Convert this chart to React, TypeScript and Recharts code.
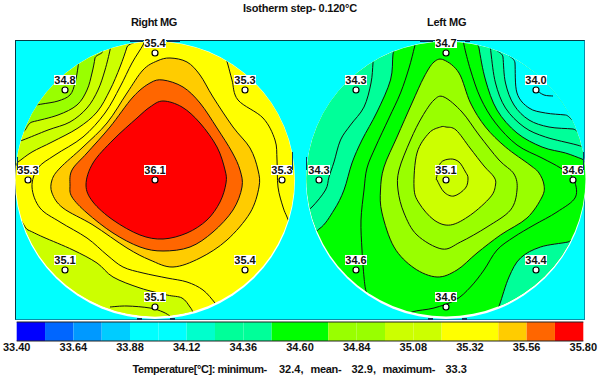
import React from 'react';
import { Bar, BarChart, Scatter, ScatterChart, XAxis, YAxis } from 'recharts';

type Pair = [number, number];

// colour scale, one entry per isotherm step of 0.12
const scaleColors = [
  '#0000ff', '#0066ff', '#0099ff', '#00ccff', '#00ffff', '#00ffff', '#00ffcc', '#00ff99', '#00ff99', '#00ff00',
  '#00ff00', '#99ff00', '#99ff00', '#ccff00', '#ccff00', '#ffff00', '#ffff00', '#ffcc00', '#ff6600', '#ff0000',
];
const scaleMin = 33.4;
const scaleStep = 0.12;
const scaleTicks = [33.4, 33.64, 33.88, 34.12, 34.36, 34.6, 34.84, 35.08, 35.32, 35.56, 35.8];

// probe positions on the breast, offset from the nipple
const probeSpots: Pair[] = [[0, -127], [-90, -90], [90, -90], [-127, 0], [0, 0], [127, 0], [-90, 90], [90, 90], [0, 127]];
const rightProbes = [35.4, 34.8, 35.3, 35.3, 36.1, 35.3, 35.1, 35.4, 35.1];
const leftProbes = [34.7, 34.3, 34.0, 34.3, 35.1, 34.6, 34.6, 34.4, 34.6];

// Right MG isotherms
const rRed: Pair[] = [[8, -79], [27, -73], [45, -57], [62, -33], [70, -10], [71, 3], [65, 22], [52, 40], [32, 53], [8, 59], [-15, 55], [-42, 40], [-62, 22], [-69, 5], [-62, -17], [-42, -40], [-18, -62], [-5, -73]];
const rOrange: Pair[] = [[8, -100], [28, -93], [45, -77], [62, -52], [77, -28], [85, -10], [87, 7], [78, 30], [58, 52], [35, 67], [8, 71], [-15, 67], [-42, 53], [-68, 33], [-83, 17], [-85, 5], [-83, -10], [-68, -27], [-45, -53], [-22, -83], [-5, -97]];
const rAmber: Pair[] = [[15, -122], [32, -118], [45, -105], [58, -83], [78, -53], [95, -32], [103, -10], [104, 7], [95, 33], [72, 60], [45, 78], [18, 87], [-5, 80], [-28, 68], [-62, 45], [-92, 28], [-103, 13], [-103, 0], [-95, -12], [-72, -33], [-48, -57], [-28, -87], [-12, -110], [2, -119]];
const rLime: Pair[] = [[-59, -132], [-60, -122], [-63, -107], [-68, -90], [-78, -75], [-97, -65], [-123, -58], [-135, -55], [-150, -150]];
const rYellowGreen: Pair[] = [[-26, -142], [-28, -133], [-35, -113], [-45, -90], [-58, -68], [-77, -52], [-103, -38], [-123, -28], [-137, -18], [-146, -12], [-150, -150]];
const rLowYellowGreen: Pair[] = [[-140, 45], [-127, 50], [-112, 57], [-82, 70], [-58, 83], [-42, 97], [-15, 108], [12, 115], [27, 118], [35, 127], [38, 132], [45, 145], [-150, 150]];
const rLineA: Pair[] = [[-76, -125], [-77, -113], [-80, -97], [-85, -85], [-97, -79], [-113, -76], [-125, -74]];
const rLineC: Pair[] = [[-44, -138], [-45, -130], [-50, -110], [-57, -90], [-68, -72], [-85, -58], [-107, -50], [-132, -40], [-142, -37]];
const rLineE: Pair[] = [[-10, -142], [-12, -135], [-23, -117], [-35, -93], [-50, -67], [-72, -43], [-100, -25], [-117, -12], [-123, 7], [-115, 28], [-95, 42], [-68, 58], [-48, 75], [-32, 87], [-12, 93], [12, 98], [32, 102], [48, 110], [60, 123], [66, 132]];
const rLineG: Pair[] = [[70, -125], [73, -115], [77, -100], [83, -80], [108, -62], [120, -40], [122, -20], [123, 7], [128, 27], [132, 37], [136, 47]];
const rLineH: Pair[] = [[-45, 127], [-28, 126], [-5, 128], [8, 132], [15, 136]];

// Left MG isotherms
const lOuterLeft: Pair[] = [[-50, -145], [-53, -126], [-55.5, -100], [-69, -68], [-84, -40], [-94, -17], [-102, 10], [-112, 30], [-127, 49], [-150, 55], [-150, -150]];
const lOuterRight: Pair[] = [[32, -145], [33, -132], [39.5, -100], [51, -70], [71, -47], [96, -33], [119.5, -27], [136, -21], [150, -16], [150, -150]];
const lOuterLow: Pair[] = [[135, 58], [122, 62], [94.5, 67], [74.5, 78], [63, 97], [53.5, 125], [48, 140], [150, 150]];
const lPale: Pair[] = [[56, -135], [57, -123], [59.5, -97], [68, -75], [83, -60], [103, -53], [127, -51], [142, -49], [150, -150]];
const lCold: Pair[] = [[68, -130], [69, -117], [71, -87], [83, -72], [99.5, -67], [119.5, -65], [135, -63], [150, -150]];
const lLime: Pair[] = [[-2, -120], [13, -107], [24.5, -77], [39.5, -53], [59.5, -33], [84, -15], [93, -7], [98, 5], [96, 17], [81, 38], [54.5, 55], [31, 73], [11, 90], [-9, 97], [-32, 88], [-52, 67], [-64, 33], [-65.5, 10], [-62, -13], [-49, -43], [-34, -77], [-22, -103], [-12, -118]];
const lYellowGreen: Pair[] = [[0, -53], [10, -50], [24, -32], [38, -14], [48, -3], [49.5, 5], [44.5, 17], [24.5, 35], [4.5, 45], [-12, 40], [-27, 23], [-32, 7], [-29, -27], [-17, -47], [-5.5, -53]];
const lLineA: Pair[] = [[-72, -130], [-73, -117], [-75, -97], [-82, -73], [-95.5, -55], [-105.5, -40], [-112, -18], [-117, -3], [-120.5, 10], [-134, 27], [-145, 35]];
const lLineC: Pair[] = [[-29, -145], [-31.5, -133], [-37, -112], [-45.5, -87], [-57, -62], [-70.5, -33], [-79, -12], [-82, 10], [-85, 40], [-84, 70], [-82, 97], [-80, 111], [-75, 125]];
const lLineR1: Pair[] = [[17, -145], [18, -135], [24.5, -110], [34.5, -82], [49.5, -57], [71, -35], [96, -22], [114.5, -12], [127, -2], [129.5, 17], [111, 32], [88, 45], [68, 57], [51, 70], [38, 90], [24.5, 107], [9.5, 120], [-12, 128], [-34, 132], [-45, 140]];
const lLineR3: Pair[] = [[44, -140], [45, -127], [49.5, -97], [59.5, -72], [78, -53], [99.5, -43], [131, -35], [146, -30]];
const lLineE: Pair[] = [[-2, -83], [16, -68], [33, -45], [53, -20], [68, -6], [71, 10], [64.5, 30], [41, 47], [14.5, 62], [-4, 69], [-29, 55], [-42, 33], [-48, 10], [-47, -10], [-35.5, -40], [-24, -63], [-12, -80]];
const lLineG: Pair[] = [[4.5, -21], [13, -18], [19.5, -8], [22, -2], [19.5, 8], [8, 16], [-2, 12], [-9, 0], [-9.5, -2], [-5.5, -17]];
const lLine34: Pair[] = [[90, -90], [98, -85], [107, -84]];

const toPoints = (pairs: Pair[]) => pairs.map(([x, y]) => ({ x, y }));

// Catmull-Rom through the scaled points
const smoothPath = (pts: { x: number; y: number }[], closed: boolean) => {
  const n = pts.length;
  const at = (i: number) => (closed ? pts[(i + n) % n] : pts[Math.max(0, Math.min(n - 1, i))]);
  let d = `M${pts[0].x},${pts[0].y}`;
  for (let i = 0; i < (closed ? n : n - 1); i++) {
    const [p0, p1, p2, p3] = [at(i - 1), at(i), at(i + 1), at(i + 2)];
    d += `C${p1.x + (p2.x - p0.x) / 6},${p1.y + (p2.y - p0.y) / 6} ${p2.x - (p3.x - p1.x) / 6},${p2.y - (p3.y - p1.y) / 6} ${p2.x},${p2.y}`;
  }
  return closed ? d + 'Z' : d;
};

const txt = { fontFamily: '"Liberation Sans", sans-serif', fontWeight: 700, fontSize: 11, color: '#111', whiteSpace: 'pre', position: 'absolute' } as const;

// short dark bits of the outer ring that show at the rim: left, top, width, height
const rimBits = [
  [130, 40, 13, 2], [167, 40, 13, 2], [137, 318, 5, 2], [170, 318, 5, 2], [17, 157, 1, 13], [292, 152, 1, 18],
  [420, 40, 13, 2], [465, 40, 5, 2], [428, 318, 5, 2], [462, 318, 5, 2], [306, 157, 1, 13], [583, 152, 1, 18],
];

const Isotherm = (pairs: Pair[], key: string, clipId: string, fill?: string, closed = false) => (
  <Scatter
    key={key}
    data={toPoints(pairs)}
    isAnimationActive={false}
    shape={() => null}
    line={(p: any) => (
      <path d={smoothPath(p.points, closed || !!fill)} fill={fill ?? 'none'} stroke="#111" strokeWidth={1} clipPath={`url(#${clipId})`} />
    )}
  />
);

const ProbeShape = (p: any) => (
  <g>
    <rect x={p.cx - 11} y={p.cy - 15} width={22} height={10} fill="#fff" />
    <text x={p.cx} y={p.cy - 6} textAnchor="middle" fontFamily='"Liberation Sans", sans-serif' fontWeight={700} fontSize={11} fill="#111">
      {p.payload.t}
    </text>
    <circle cx={p.cx} cy={p.cy} r={3} fill="#fff" stroke="#000" strokeWidth={1.2} />
  </g>
);

const Disc = ({ left, base, id, probes, children }: { left: number; base: string; id: string; probes: number[]; children: React.ReactNode }) => (
  <div style={{ position: 'absolute', left, top: 30 }}>
    <ScatterChart width={300} height={300} margin={{ top: 0, right: 0, bottom: 0, left: 0 }}>
      <defs>
        <clipPath id={id}>
          <ellipse cx={150} cy={149} rx={139.5} ry={137.5} />
        </clipPath>
      </defs>
      <ellipse cx={150} cy={150} rx={140} ry={139} fill="#fff" />
      <ellipse cx={150} cy={149} rx={139.5} ry={137.5} fill={base} />
      <XAxis type="number" dataKey="x" domain={[-150, 150]} hide />
      <YAxis type="number" dataKey="y" domain={[-150, 150]} reversed hide />
      {children}
      <Scatter
        data={probeSpots.map(([x, y], i) => ({ x, y, t: probes[i].toFixed(1) }))}
        isAnimationActive={false}
        shape={ProbeShape}
      />
    </ScatterChart>
  </div>
);

const scaleRow: Record<string, number | string> = { row: 'scale' };
scaleColors.forEach((_, i) => {
  scaleRow[`s${i}`] = scaleStep;
});

export default function App() {
  return (
    <div style={{ position: 'absolute', left: 0, top: 0, width: 600, height: 377, background: '#fff', overflow: 'hidden' }}>
      <div style={{ position: 'absolute', left: 15, top: 40, width: 568, height: 278, background: '#00ffff', borderTop: '1px solid #043a44', borderLeft: '1px solid #043a44', borderRight: '1px solid #0a8fa8', borderBottom: '1px solid #0a8fa8' }} />
      <div style={{ ...txt, left: 243, top: 2, letterSpacing: -0.22 }}>Isotherm step- 0.120°C</div>
      <div style={{ ...txt, left: 131, top: 16, letterSpacing: -0.35 }}>Right MG</div>
      <div style={{ ...txt, left: 427, top: 16, letterSpacing: -0.25 }}>Left MG</div>

      <Disc left={5} base="#ffff00" id="clipR" probes={rightProbes}>
        {[
          Isotherm(rYellowGreen, 'a', 'clipR', '#ccff00'),
          Isotherm(rLowYellowGreen, 'b', 'clipR', '#ccff00'),
          Isotherm(rLime, 'c', 'clipR', '#99ff00'),
          Isotherm(rAmber, 'd', 'clipR', '#ffcc00'),
          Isotherm(rOrange, 'e', 'clipR', '#ff6600'),
          Isotherm(rRed, 'f', 'clipR', '#ff0000'),
          Isotherm(rLineA, 'g', 'clipR'),
          Isotherm(rLineC, 'h', 'clipR'),
          Isotherm(rLineE, 'i', 'clipR'),
          Isotherm(rLineG, 'j', 'clipR'),
          Isotherm(rLineH, 'k', 'clipR'),
        ]}
      </Disc>

      <Disc left={295.5} base="#00ff00" id="clipL" probes={leftProbes}>
        {[
          Isotherm(lOuterLeft, 'a', 'clipL', '#00ff99'),
          Isotherm(lOuterRight, 'b', 'clipL', '#00ff99'),
          Isotherm(lOuterLow, 'c', 'clipL', '#00ff99'),
          Isotherm(lPale, 'd', 'clipL', '#00ffcc'),
          Isotherm(lCold, 'e', 'clipL', '#00ffff'),
          Isotherm(lLime, 'f', 'clipL', '#99ff00'),
          Isotherm(lYellowGreen, 'g', 'clipL', '#ccff00'),
          Isotherm(lLineA, 'h', 'clipL'),
          Isotherm(lLineC, 'i', 'clipL'),
          Isotherm(lLineR1, 'j', 'clipL'),
          Isotherm(lLineR3, 'k', 'clipL'),
          Isotherm(lLineE, 'l', 'clipL', undefined, true),
          Isotherm(lLineG, 'm', 'clipL', undefined, true),
          Isotherm(lLine34, 'n', 'clipL'),
        ]}
      </Disc>

      {rimBits.map(([l, t, w, h], i) => (
        <div key={i} style={{ position: 'absolute', left: l, top: t, width: w, height: h, background: '#0b3a5c' }} />
      ))}

      <div style={{ position: 'absolute', left: 0, top: 318 }}>
        <BarChart
          layout="vertical"
          width={600}
          height={40}
          data={[scaleRow]}
          barCategoryGap={0}
          margin={{ top: 1, right: 16.7, bottom: 0, left: 16.7 }}
        >
          <XAxis
            type="number"
            domain={[0, 2.4]}
            ticks={scaleTicks.map((t) => t - scaleMin)}
            tickFormatter={(v: number) => (v + scaleMin).toFixed(2)}
            interval={0}
            height={17}
            stroke="#222"
            tickLine={false}
            tickSize={0}
            tickMargin={2}
            tick={{ fontFamily: '"Liberation Sans", sans-serif', fontWeight: 700, fontSize: 11, fill: '#111' }}
          />
          <XAxis
            xAxisId="top"
            orientation="top"
            type="number"
            domain={[0, 2.4]}
            ticks={scaleTicks.map((t) => t - scaleMin)}
            interval={0}
            height={3}
            stroke="#222"
            tickSize={3}
            tick={false}
          />
          <YAxis type="category" dataKey="row" width={0} tick={false} tickLine={false} stroke="#222" />
          {scaleColors.map((c, i) => (
            <Bar key={i} dataKey={`s${i}`} stackId="scale" fill={c} isAnimationActive={false} />
          ))}
        </BarChart>
      </div>
      <div style={{ ...txt, left: 132.5, top: 363, letterSpacing: -0.42 }}>Temperature[°C]: minimum-</div>
      <div style={{ ...txt, left: 279, top: 363 }}>32.4,</div>
      <div style={{ ...txt, left: 310.5, top: 363, letterSpacing: -0.3 }}>mean-</div>
      <div style={{ ...txt, left: 351.5, top: 363 }}>32.9,</div>
      <div style={{ ...txt, left: 382.5, top: 363, letterSpacing: -0.3 }}>maximum-</div>
      <div style={{ ...txt, left: 445.5, top: 363 }}>33.3</div>
    </div>
  );
}
